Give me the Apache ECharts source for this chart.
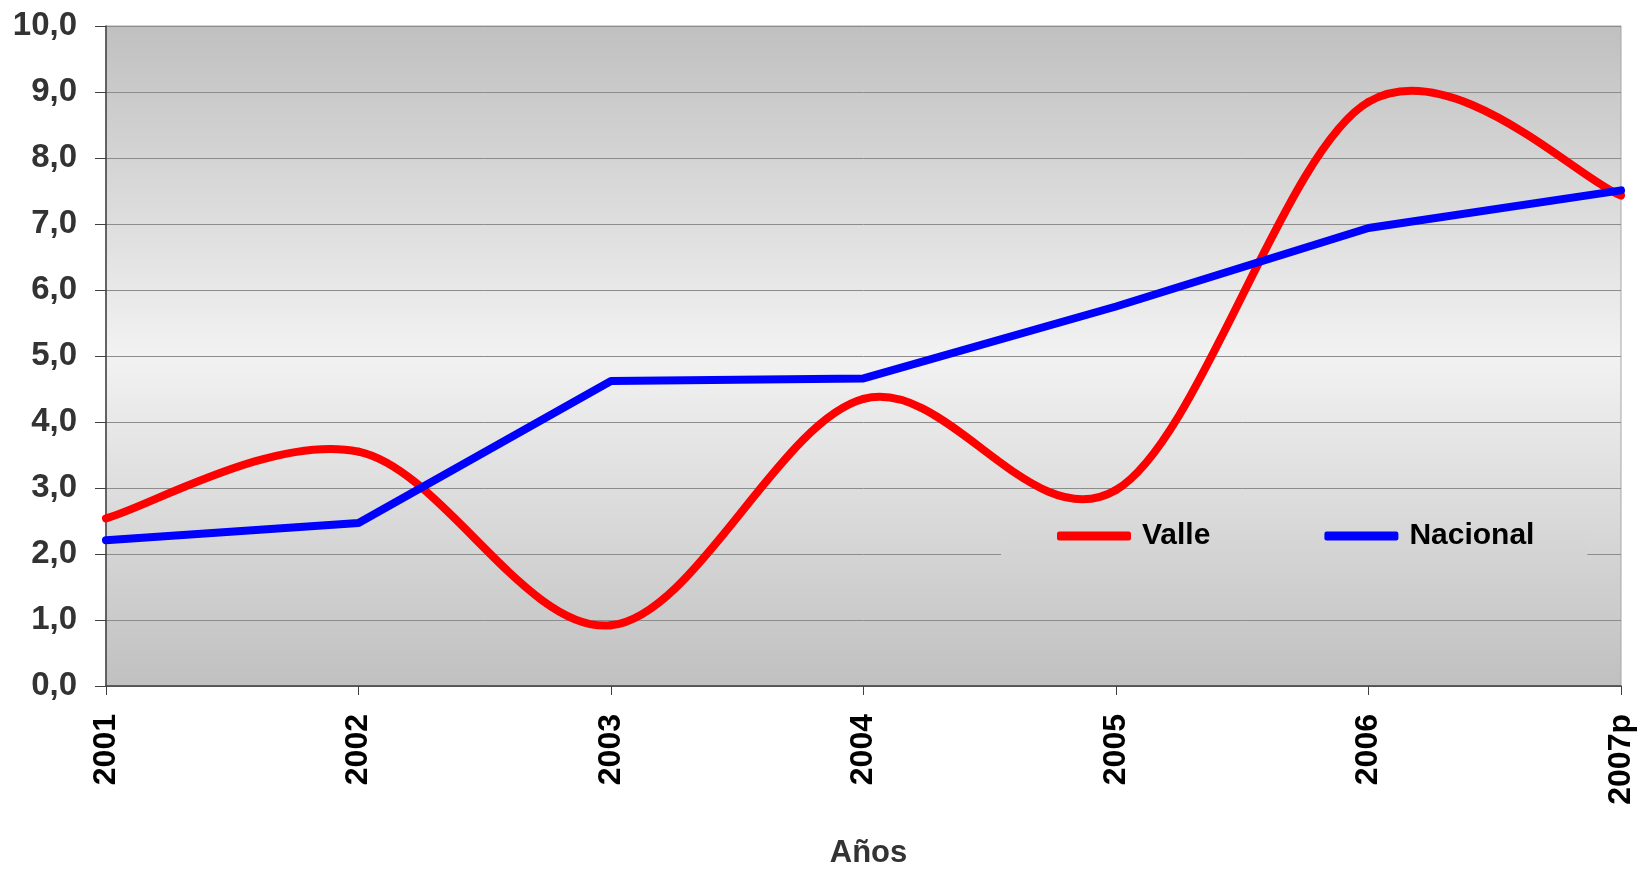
<!DOCTYPE html>
<html>
<head>
<meta charset="utf-8">
<script src="https://cdn.jsdelivr.net/npm/echarts@6/dist/echarts.min.js"></script>
<style>
html,body{margin:0;padding:0;background:#fff;}
#chart{width:1650px;height:869px;}
</style>
</head>
<body>
<div id="chart"></div>
<script>
const years = ['2001', '2002', '2003', '2004', '2005', '2006', '2007p'];
const valle = [2.54, 3.55, 0.92, 4.35, 2.97, 8.85, 7.43];
const nacional = [2.21, 2.47, 4.62, 4.66, 5.75, 6.94, 7.51];
const yTicks = { min: 0, max: 10, interval: 1 };

const chart = echarts.init(document.getElementById('chart'));
const font = "'Liberation Sans', Arial, sans-serif";

// Smoothed line (spreadsheet-style cubic Bezier through every data point),
// positioned through the chart's own axes via api.coord.
function renderSmooth(params, api) {
  const i = params.dataIndex;
  const n = valle.length;
  if (i >= n - 1) return null;
  const P = j => {
    const k = Math.max(0, Math.min(n - 1, j));
    return api.coord([k, valle[k]]);
  };
  const p0 = P(i - 1), p1 = P(i), p2 = P(i + 1), p3 = P(i + 2);
  const t = 1 / 6;
  return {
    type: 'bezierCurve',
    shape: {
      x1: p1[0], y1: p1[1], x2: p2[0], y2: p2[1],
      cpx1: p1[0] + (p2[0] - p0[0]) * t, cpy1: p1[1] + (p2[1] - p0[1]) * t,
      cpx2: p2[0] - (p3[0] - p1[0]) * t, cpy2: p2[1] - (p3[1] - p1[1]) * t
    },
    style: { stroke: '#ff0000', lineWidth: 8, fill: null, lineCap: 'round', lineJoin: 'round' }
  };
}

chart.setOption({
  animation: false,
  backgroundColor: '#ffffff',
  grid: {
    left: 106, right: 29, top: 26, bottom: 183,
    outerBoundsMode: 'none',
    containLabel: false,
    show: true,
    borderColor: '#a6a6a6',
    borderWidth: 1,
    backgroundColor: new echarts.graphic.LinearGradient(0, 0, 0, 1, [
      { offset: 0, color: '#c0c0c0' },
      { offset: 0.5, color: '#f2f2f2' },
      { offset: 1, color: '#c0c0c0' }
    ])
  },
  legend: {
    data: ['Valle', 'Nacional'],
    left: 1001,
    top: 515,
    padding: [6, 53, 6, 56],
    backgroundColor: new echarts.graphic.LinearGradient(0, 0, 0, 1, [
      { offset: 0, color: '#dadada' },
      { offset: 1, color: '#d3d3d3' }
    ]),
    icon: 'roundRect',
    itemWidth: 74,
    itemHeight: 9,
    itemGap: 114,
    textStyle: { fontFamily: font, fontWeight: 'bold', fontSize: 30, color: '#000', padding: [0, 0, 0, 6] }
  },
  xAxis: {
    type: 'category',
    data: years,
    boundaryGap: false,
    name: 'Años',
    nameLocation: 'middle',
    nameGap: 152,
    nameTextStyle: { fontFamily: font, fontWeight: 'bold', fontSize: 31, color: '#333', padding: [0, 0, 0, 10] },
    axisLine: { lineStyle: { color: '#404040', width: 1.5 } },
    axisTick: { alignWithLabel: true, length: 9, lineStyle: { color: '#404040' } },
    axisLabel: { rotate: 90, margin: 28, fontFamily: font, fontWeight: 'bold', fontSize: 32, color: '#000' },
    splitLine: { show: false }
  },
  yAxis: {
    type: 'value',
    min: yTicks.min, max: yTicks.max, interval: yTicks.interval,
    axisLine: { show: true, lineStyle: { color: '#404040', width: 1.5 } },
    axisTick: { show: true, length: 11, lineStyle: { color: '#404040' } },
    axisLabel: {
      margin: 29, fontFamily: font, fontWeight: 'bold', fontSize: 33, color: '#333',
      formatter: v => v.toFixed(1).replace('.', ',')
    },
    splitLine: { lineStyle: { color: '#8c8c8c', width: 1 } }
  },
  series: [
    {
      name: 'Valle', type: 'custom',
      data: valle.map((v, i) => [i, v]),
      encode: { x: 0, y: 1 },
      renderItem: renderSmooth,
      itemStyle: { color: '#ff0000' }
    },
    {
      name: 'Nacional', type: 'line', data: nacional, smooth: false,
      showSymbol: false, symbol: 'none',
      lineStyle: { color: '#0000ff', width: 8, cap: 'round', join: 'round' },
      itemStyle: { color: '#0000ff' }
    }
  ]
});
</script>
</body>
</html>
